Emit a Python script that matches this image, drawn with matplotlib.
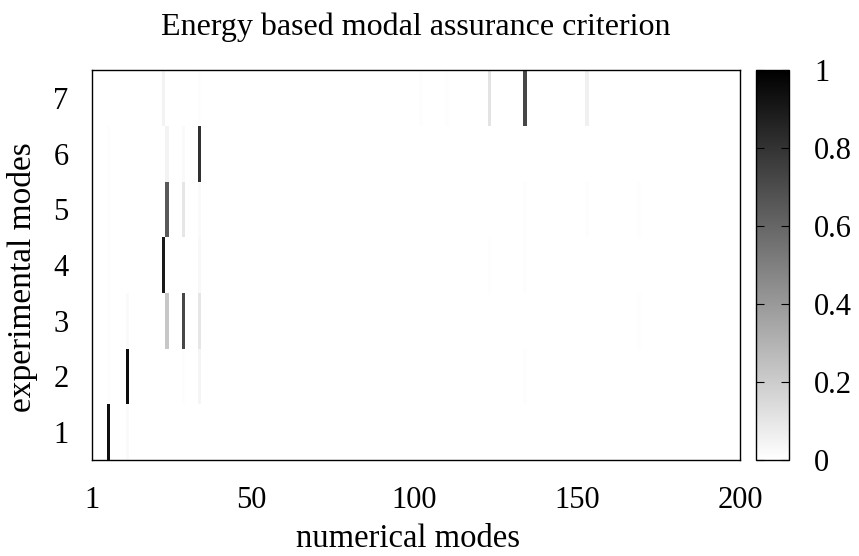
import numpy as np
import matplotlib
matplotlib.use("Agg")
import matplotlib.pyplot as plt
from matplotlib.colors import LinearSegmentedColormap

plt.rcParams['font.family'] = ['Liberation Serif', 'DejaVu Serif']

# Energy based MAC values (1-based mode numbers).
n_numerical = 200
n_experimental = 7

exp_modes = [1, 1,
             2, 2, 2, 2, 2,
             3, 3, 3, 3, 3, 3,
             4, 4, 4, 4, 4,
             5, 5, 5, 5, 5, 5, 5,
             6, 6, 6, 6,
             7, 7, 7, 7, 7, 7, 7]
num_modes = [6, 12,
             6, 12, 29, 34, 134,
             6, 12, 24, 29, 34, 169,
             6, 23, 34, 123, 134,
             6, 24, 29, 34, 134, 153, 169,
             6, 24, 29, 34,
             23, 34, 102, 110, 123, 134, 153]
mac_values = [0.94, 0.02,
              0.01, 0.95, 0.01, 0.04, 0.01,
              0.01, 0.02, 0.22, 0.72, 0.10, 0.01,
              0.01, 0.90, 0.03, 0.01, 0.01,
              0.01, 0.65, 0.10, 0.02, 0.01, 0.01, 0.01,
              0.01, 0.05, 0.02, 0.81,
              0.05, 0.01, 0.01, 0.01, 0.11, 0.72, 0.06]

x_ticks = [1, 50, 100, 150, 200]
cb_ticks = [0, 0.2, 0.4, 0.6, 0.8, 1]

# Build the matrix.
mac = np.zeros((n_experimental, n_numerical))
for r, c, v in zip(exp_modes, num_modes, mac_values):
    mac[r - 1, c - 1] = v

gray = LinearSegmentedColormap.from_list('wb', ['white', 'black'])

fig = plt.figure(figsize=(8.59, 5.56), dpi=100)
ax = fig.add_axes([92 / 859, 1 - 460 / 556, 648 / 859, 390 / 556])
cax = fig.add_axes([756 / 859, 1 - 460 / 556, 33 / 859, 390 / 556])

im = ax.imshow(mac, cmap=gray, vmin=0, vmax=1, aspect='auto', origin='lower',
               interpolation='nearest',
               extent=[0.5, n_numerical + 0.5, 0.5, n_experimental + 0.5])
ax.set_xlim(1, 200)
ax.set_ylim(0.5, 7.5)
ax.set_xticks(x_ticks)
ax.set_yticks(range(1, n_experimental + 1))
ax.tick_params(length=0, labelsize=22)
ax.tick_params(axis='x', pad=19)
ax.tick_params(axis='y', pad=17)
for s in ax.spines.values():
    s.set_linewidth(1.0)

ax.set_title('Energy based modal assurance criterion', fontsize=23, pad=25)
ax.set_xlabel('numerical modes', fontsize=23.5)
ax.set_ylabel('experimental modes', fontsize=24, labelpad=11)
ax.xaxis.set_label_coords(0.488, -0.163)
ax.yaxis.label.set_y(0.468)

cb = fig.colorbar(im, cax=cax, ticks=cb_ticks)
cb.ax.set_yticklabels(['0', '0.2', '0.4', '0.6', '0.8', '1'])
cb.ax.tick_params(direction='in', length=6, width=0.8, labelsize=22, pad=18,
                  left=True, right=True)
cb.outline.set_linewidth(1.0)

fig.savefig('out.png', dpi=100)
